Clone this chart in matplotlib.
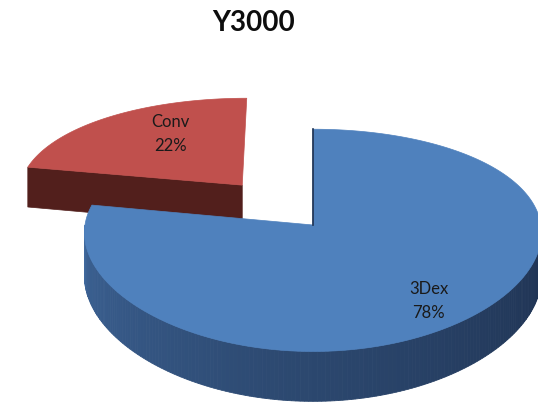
import numpy as np
import matplotlib
matplotlib.use("Agg")
import matplotlib.pyplot as plt
from matplotlib.patches import Polygon
from matplotlib.colors import to_rgb

# 数据
title = "Y3000"
labels = ["Conv", "3Dex"]
shares = [22, 78]          # 百分比
explode = [0.5, 0.0]

# 配色：顶面 / 侧面
top_colors = ["#c0504d", "#4f81bd"]
red_side = "#521f1c"
blue_side_stops = [(180, "#4a78b2"), (195, "#3a5f90"), (260, "#2d4a72"), (360, "#1e3150")]

# 伪透视投影参数（像素坐标）
CX, CY = 313, 225
RX, RY = 228, 109
PX, PY = 0.07, 0.138
H = 43
START = 90

# 标签位置 (半径, 角度)
label_pos = [(0.66, 122), (0.80, -52.8)]

plt.rcParams["font.family"] = ["Lato", "DejaVu Sans"]


def proj(X, Z, depth=0.0):
    kx = 1.0 / (1.0 + PX * Z)
    ky = 1.0 / (1.0 + PY * Z)
    return CX + RX * X * kx, CY - RY * Z * ky + H * depth * ky


def arc(a0, a1, off, depth=0.0, n=200):
    t = np.radians(np.linspace(a0, a1, n))
    X = np.cos(t) + off[0]
    Z = np.sin(t) + off[1]
    return np.column_stack(proj(X, Z, depth))


def side_color(a):
    angs = [s[0] for s in blue_side_stops]
    cols = np.array([to_rgb(s[1]) for s in blue_side_stops])
    return [np.interp(a, angs, cols[:, i]) for i in range(3)]


fig = plt.figure(figsize=(5.38, 4.03), dpi=100)
ax = fig.add_axes([0, 0, 1, 1])
ax.set_xlim(0, 538)
ax.set_ylim(403, 0)
ax.axis("off")

# 各扇区角度范围
bounds = []
a = START
for s in shares:
    bounds.append((a, a + 360 * s / 100))
    a += 360 * s / 100

offsets = []
for (a0, a1), e in zip(bounds, explode):
    mid = np.radians((a0 + a1) / 2)
    offsets.append((e * np.cos(mid), e * np.sin(mid)))

# Conv 扇区（在后方，先画）
(a0, a1), off = bounds[0], offsets[0]
end = np.radians(a1)
ex, ez = np.cos(end) + off[0], np.sin(end) + off[1]
quad = [proj(off[0], off[1]), proj(ex, ez), proj(ex, ez, 1), proj(off[0], off[1], 1)]
ax.add_patch(Polygon(quad, closed=True, fc=red_side, ec=red_side, lw=0.5))
top = np.vstack([proj(off[0], off[1]), arc(a0, a1, off)])
ax.add_patch(Polygon(top, closed=True, fc=top_colors[0], ec=top_colors[0], lw=0.5))

# 3Dex 扇区：侧面渐变
(a0, a1), off = bounds[1], offsets[1]
steps = np.linspace(180, 360, 181)
for s0, s1 in zip(steps[:-1], steps[1:]):
    upper = arc(s0, s1, off, 0, 3)
    lower = arc(s1, s0, off, 1, 3)
    c = side_color((s0 + s1) / 2)
    ax.add_patch(Polygon(np.vstack([upper, lower]), closed=True, fc=c, ec=c, lw=0.6))

top = np.vstack([proj(off[0], off[1]), arc(a0, a1, off, n=400)])
ax.add_patch(Polygon(top, closed=True, fc=top_colors[1], ec=top_colors[1], lw=0.5))
# 竖直切口处的暗边
ax.plot(*zip(proj(off[0], off[1]), proj(off[0], off[1] + 1)), color="#1e3150", lw=1.2)

# 数据标签
for lab, s, off, (r, ang) in zip(labels, shares, offsets, label_pos):
    t = np.radians(ang)
    x, y = proj(r * np.cos(t) + off[0], r * np.sin(t) + off[1])
    ax.text(x, y, f"{lab}\n{s}%", ha="center", va="center", fontsize=12,
            color="#1a1a1a", linespacing=1.6)

ax.text(254, 23, title, ha="center", va="center", fontsize=20, fontweight="bold",
        color="#0d0d0d")

fig.savefig("out.png", dpi=100)
